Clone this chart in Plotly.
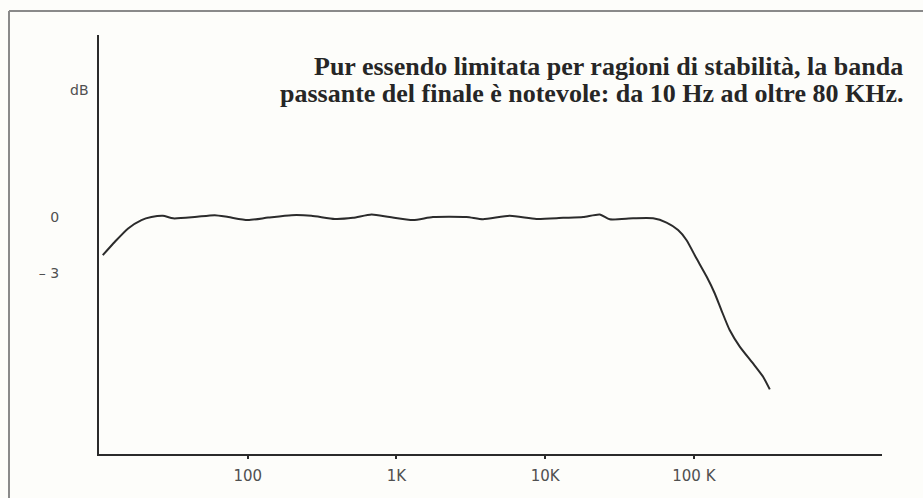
import plotly.graph_objects as go

# Frequency response of the power stage (Hz, dB)
freq_hz = [10.6, 12.8, 15.7, 19.3, 22.5, 26.9, 31.5, 44, 60, 74, 100, 137, 197, 268,
           385, 510, 680, 900, 1295, 1760, 2960, 3820, 5780, 8730, 13200, 18000,
           23300, 27200, 39000, 53200, 65500, 78300, 89100, 104000, 122000,
           138000, 153000, 174000, 204000, 250000, 292000, 324000]
gain_db = [-2.04, -1.32, -0.61, -0.16, 0.0, 0.07, -0.07, 0.0, 0.1, 0.0, -0.16, -0.03,
           0.1, 0.07, -0.1, -0.04, 0.14, 0.0, -0.16, 0.0, 0.0, -0.12, 0.07, -0.1,
           -0.04, 0.0, 0.14, -0.12, -0.07, -0.07, -0.3, -0.7, -1.23, -2.21, -3.2,
           -4.08, -4.98, -6.05, -6.95, -7.84, -8.55, -9.23]

x_tick_vals = [100, 1000, 10000, 100000]
x_tick_text = ["100", "1K", "10K", "100 K"]
y_tick_vals = [0, -3]
y_tick_text = ["0", "\u2013 3"]
y_unit = "dB"
caption_lines = [
    "Pur essendo limitata per ragioni di stabilità, la banda",
    "passante del finale è notevole: da 10 Hz ad oltre 80 KHz.",
]

W, H = 923, 498
L, R, T, B = 99, 41, 35, 44
PW, PH = W - L - R, H - T - B


def px_x(px):
    return (px - L) / PW


def px_y(py):
    return (H - B - py) / PH


ink = "#2b2b2b"
label_color = "#505050"
bg = "#fdfdfa"
sans = "DejaVu Sans, Verdana, sans-serif"

fig = go.Figure()
fig.add_trace(go.Scatter(
    x=freq_hz, y=gain_db, mode="lines",
    line=dict(color=ink, width=2, shape="spline", smoothing=0.6),
    hoverinfo="skip", showlegend=False,
))

fig.update_layout(
    width=W, height=H,
    margin=dict(l=L, r=R, t=T, b=B, pad=0),
    paper_bgcolor=bg, plot_bgcolor=bg,
    showlegend=False,
    xaxis=dict(
        type="log", range=[1.0, 6.265], showgrid=False, zeroline=False,
        showline=True, linecolor=ink, linewidth=2,
        tickvals=x_tick_vals, ticktext=x_tick_text,
        ticks="outside", ticklen=3, tickwidth=2, tickcolor=ink,
        ticklabelstandoff=4,
        tickfont=dict(family=sans, size=15, color=label_color),
    ),
    yaxis=dict(
        range=[-12.69, 9.75], showgrid=False, zeroline=False,
        showline=True, linecolor=ink, linewidth=2,
        tickvals=y_tick_vals, ticktext=y_tick_text, ticks="",
        ticklabelstandoff=35,
        tickfont=dict(family=sans, size=14, color=label_color),
    ),
    font=dict(family=sans),
)

# unit label above the y tick labels
fig.add_annotation(
    text=y_unit, xref="paper", yref="y", x=px_x(91), y=6.8,
    xanchor="right", yanchor="middle", showarrow=False,
    font=dict(family=sans, size=14, color=label_color),
)

# caption, right aligned
for text, cy in zip(caption_lines, [66, 93]):
    fig.add_annotation(
        text=text, xref="paper", yref="paper", x=px_x(905), y=px_y(cy),
        xanchor="right", yanchor="middle", showarrow=False,
        font=dict(family="Liberation Serif, Times New Roman, serif", size=26,
                  color="#262626", weight="bold"),
    )

# outer frame (top and left edges)
frame = dict(color="#8a8a8a", width=2)
fig.add_shape(type="line", xref="paper", yref="paper",
              x0=px_x(9), x1=px_x(W), y0=px_y(11), y1=px_y(11), line=frame)
fig.add_shape(type="line", xref="paper", yref="paper",
              x0=px_x(9), x1=px_x(9), y0=px_y(11), y1=px_y(H), line=frame)

fig.write_html("out.html")
